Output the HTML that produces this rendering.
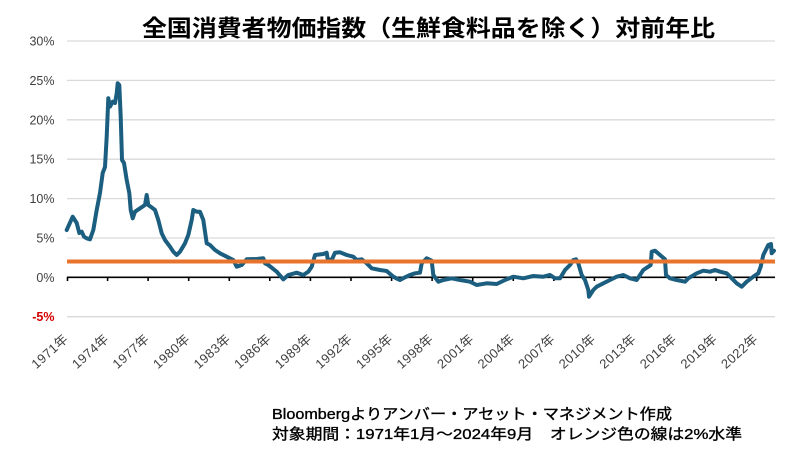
<!DOCTYPE html>
<html><head><meta charset="utf-8"><style>
html,body{margin:0;padding:0;background:#fff;}
svg{display:block;}
</style></head><body>
<svg width="800" height="455" viewBox="0 0 800 455" xmlns="http://www.w3.org/2000/svg">
<rect width="800" height="455" fill="#fff"/>
<g stroke="#d9d9d9" stroke-width="1.3">
<line x1="67" y1="41" x2="775" y2="41"/>
<line x1="67" y1="80.4" x2="775" y2="80.4"/>
<line x1="67" y1="119.8" x2="775" y2="119.8"/>
<line x1="67" y1="159.2" x2="775" y2="159.2"/>
<line x1="67" y1="198.6" x2="775" y2="198.6"/>
<line x1="67" y1="238" x2="775" y2="238"/>
<line x1="67" y1="316.7" x2="775" y2="316.7"/>
</g>
<text x="428.5" y="36" text-anchor="middle" font-family="'Liberation Sans','Noto Sans CJK JP',sans-serif" font-size="23" font-weight="bold" fill="#000" textLength="573" lengthAdjust="spacingAndGlyphs">全国消費者物価指数（生鮮食料品を除く）対前年比</text>
<g font-family="'Liberation Sans','Noto Sans CJK JP',sans-serif" font-size="12.5" fill="#404040" text-anchor="end">
<text x="54.5" y="45.5">30%</text>
<text x="54.5" y="84.9">25%</text>
<text x="54.5" y="124.3">20%</text>
<text x="54.5" y="163.7">15%</text>
<text x="54.5" y="203.1">10%</text>
<text x="54.5" y="242.5">5%</text>
<text x="54.5" y="281.8">0%</text>
<text x="54.5" y="321.2" fill="#d40000" font-weight="bold">-5%</text>
</g>
<line x1="67" y1="277.3" x2="775" y2="277.3" stroke="#000" stroke-width="1.6"/>
<g stroke="#000" stroke-width="1.6">
<line x1="67.5" y1="277" x2="67.5" y2="281"/>
<line x1="107.6" y1="277" x2="107.6" y2="281"/>
<line x1="148.1" y1="277" x2="148.1" y2="281"/>
<line x1="188.7" y1="277" x2="188.7" y2="281"/>
<line x1="229.3" y1="277" x2="229.3" y2="281"/>
<line x1="269.8" y1="277" x2="269.8" y2="281"/>
<line x1="310.4" y1="277" x2="310.4" y2="281"/>
<line x1="351" y1="277" x2="351" y2="281"/>
<line x1="391.6" y1="277" x2="391.6" y2="281"/>
<line x1="432.1" y1="277" x2="432.1" y2="281"/>
<line x1="472.7" y1="277" x2="472.7" y2="281"/>
<line x1="513.3" y1="277" x2="513.3" y2="281"/>
<line x1="553.8" y1="277" x2="553.8" y2="281"/>
<line x1="594.4" y1="277" x2="594.4" y2="281"/>
<line x1="635" y1="277" x2="635" y2="281"/>
<line x1="675.5" y1="277" x2="675.5" y2="281"/>
<line x1="716.1" y1="277" x2="716.1" y2="281"/>
<line x1="756.7" y1="277" x2="756.7" y2="281"/>
</g>
<g font-family="'Liberation Sans','Noto Sans CJK JP',sans-serif" font-size="13" letter-spacing="0.4" fill="#404040" text-anchor="end">
<text transform="translate(69,340) rotate(-42)">1971年</text>
<text transform="translate(109.6,340) rotate(-42)">1974年</text>
<text transform="translate(150.1,340) rotate(-42)">1977年</text>
<text transform="translate(190.7,340) rotate(-42)">1980年</text>
<text transform="translate(231.3,340) rotate(-42)">1983年</text>
<text transform="translate(271.8,340) rotate(-42)">1986年</text>
<text transform="translate(312.4,340) rotate(-42)">1989年</text>
<text transform="translate(353,340) rotate(-42)">1992年</text>
<text transform="translate(393.6,340) rotate(-42)">1995年</text>
<text transform="translate(434.1,340) rotate(-42)">1998年</text>
<text transform="translate(474.7,340) rotate(-42)">2001年</text>
<text transform="translate(515.3,340) rotate(-42)">2004年</text>
<text transform="translate(555.8,340) rotate(-42)">2007年</text>
<text transform="translate(596.4,340) rotate(-42)">2010年</text>
<text transform="translate(637,340) rotate(-42)">2013年</text>
<text transform="translate(677.5,340) rotate(-42)">2016年</text>
<text transform="translate(718.1,340) rotate(-42)">2019年</text>
<text transform="translate(758.7,340) rotate(-42)">2022年</text>
</g>
<polyline fill="none" stroke="#1b5e80" stroke-width="4" stroke-linejoin="round" stroke-linecap="round" points="66.7,230 72.7,216.7 76.7,223 79.3,233 81.7,231.7 84,236.7 86.7,238.3 90,239.3 93.3,230 96.7,210 100,193 102.7,173 105,167 106.7,136.7 108.3,98.3 110,106.7 112.7,101.7 115,103 116.7,93.3 117.7,83.3 119.3,85 120.7,116.7 122,160 124,163 126.7,180 129.3,193 130.7,210 132.7,218.3 135,211.7 140,208.3 145,205 146.7,195 148.3,205 150.7,206.7 155,210 158.3,220 161.7,233.3 165,240 170,246.7 173.3,251.7 176.7,255 180,251.7 185,243.3 188.3,235 191.7,220 193.3,210 196.7,211.7 200,211.7 203.3,220 206.7,243.3 210,245 215,250 220,253.3 226.7,256.7 233.3,260 236.7,266.7 241.7,265 246.7,259.3 256.7,259 263.3,258.3 265,263.3 268.3,265 276.7,271.7 283.3,279.3 288.3,275 296.7,272.7 303.3,275 308.3,271.7 311.7,266.7 315,255 323.3,254 326.7,252.7 327.7,259.3 331.7,260 335,252.7 340,252.3 346.7,255 353.3,256.7 356.7,260 361.7,259.3 366.7,263.3 371.7,268.3 380,270 386.7,271 393.3,276.7 398.3,279.3 400,280 405,277.3 410,275 415,273.3 420,272.7 421.7,263.3 426.7,258.3 431.7,260.7 433.3,275 438.3,281.7 443.3,280 451.7,278.3 460,280 470,281.7 476.7,285 486.7,283.3 496.7,284 505,280 513.3,276.7 523.3,278.3 533.3,276 543.3,276.7 550,275 555,278.3 560,278.3 565,270 570,265 573.3,260 576,259.3 578.3,263.3 581.7,275 585,280 588.3,290 589,296.7 593.3,290 596.7,286.7 603.3,283.3 610,280 616.7,276.7 623.3,275 630,278.3 636.7,280 640,275 643.3,270 648.3,266.7 650.7,265 651.7,251.7 655,250.7 660,255 665,259.3 666,275 670,278.3 676.7,280 685,281.7 688.3,278.3 696.7,273.3 703.3,270.7 710,271.7 715,270 720,271.7 726.7,273.3 731.7,278.3 736.7,283.3 741.7,286.7 746.7,281.7 753.3,276.7 758.3,273.3 760.7,266.7 763.3,255 768.3,245 771,244 771.7,253.3 774,250.7"/>
<line x1="67" y1="261.5" x2="775" y2="261.5" stroke="#e8732c" stroke-width="4"/>
<g font-family="'Liberation Sans','Noto Sans CJK JP',sans-serif" font-size="15" fill="#000" stroke="#000" stroke-width="0.35">
<text x="272" y="419" textLength="400" lengthAdjust="spacingAndGlyphs">Bloombergよりアンバー・アセット・マネジメント作成</text>
<text x="272" y="439" textLength="470" lengthAdjust="spacingAndGlyphs">対象期間：1971年1月～2024年9月　オレンジ色の線は2%水準</text>
</g>
</svg>
</body></html>
